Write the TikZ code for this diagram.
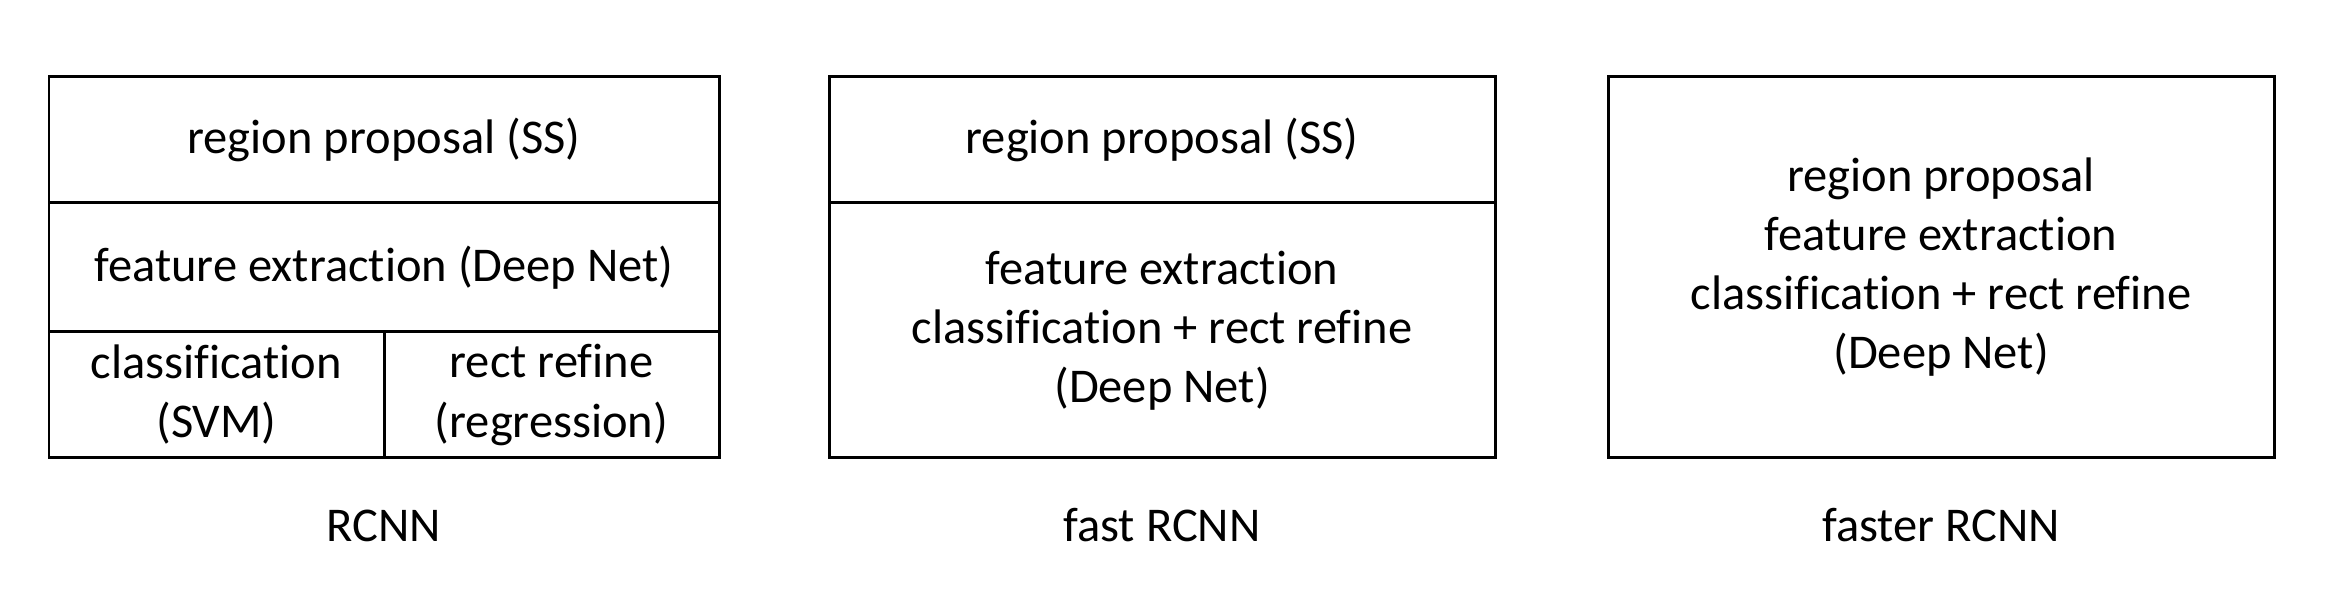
\documentclass[tikz,border=0pt]{standalone}
\usepackage{fontspec}
\setmainfont{Carlito}[Ligatures={NoCommon}]
\begin{document}
\begin{tikzpicture}
			[cell/.style={rectangle,draw,line width=0.85pt,inner sep=0pt,outer sep=0pt,align=center,font=\fontsize{13.8pt}{16.8pt}\selectfont},
			 tag/.style={anchor=base,inner sep=0pt,font=\fontsize{13.8pt}{16.8pt}\selectfont}]
			\useasboundingbox (0,0) rectangle (23.42,6.10);
			% RCNN
			\node[cell,minimum width=6.70cm,minimum height=1.26cm,name=rp1] at (3.84,4.70) {region proposal (SS)};
			\node[cell,minimum width=6.70cm,minimum height=1.29cm,name=fe1] at (3.84,3.425) {feature extraction (Deep Net)};
			\node[cell,minimum width=3.35cm,minimum height=1.26cm,name=cl1] at (2.165,2.15) {classification\\(SVM)};
			\node[cell,minimum width=3.35cm,minimum height=1.26cm,name=rr1] at (5.515,2.15) {rect refine\\(regression)};
			\node[tag,name=t1] at (3.84,0.68) {RCNN};
			% fast RCNN
			\node[cell,minimum width=6.66cm,minimum height=1.26cm,name=rp2] at (11.62,4.70) {region proposal (SS)};
			\node[cell,minimum width=6.66cm,minimum height=2.55cm,name=fe2] at (11.62,2.795) {feature extraction\\classification + rect refine\\(Deep Net)};
			\node[tag,name=t2] at (11.62,0.68) {fast RCNN};
			% faster RCNN
			\node[cell,minimum width=6.66cm,minimum height=3.81cm,name=all3] at (19.41,3.425) {region proposal\\feature extraction\\classification + rect refine\\(Deep Net)};
			\node[tag,name=t3] at (19.41,0.68) {faster RCNN};
		\end{tikzpicture}
\end{document}
